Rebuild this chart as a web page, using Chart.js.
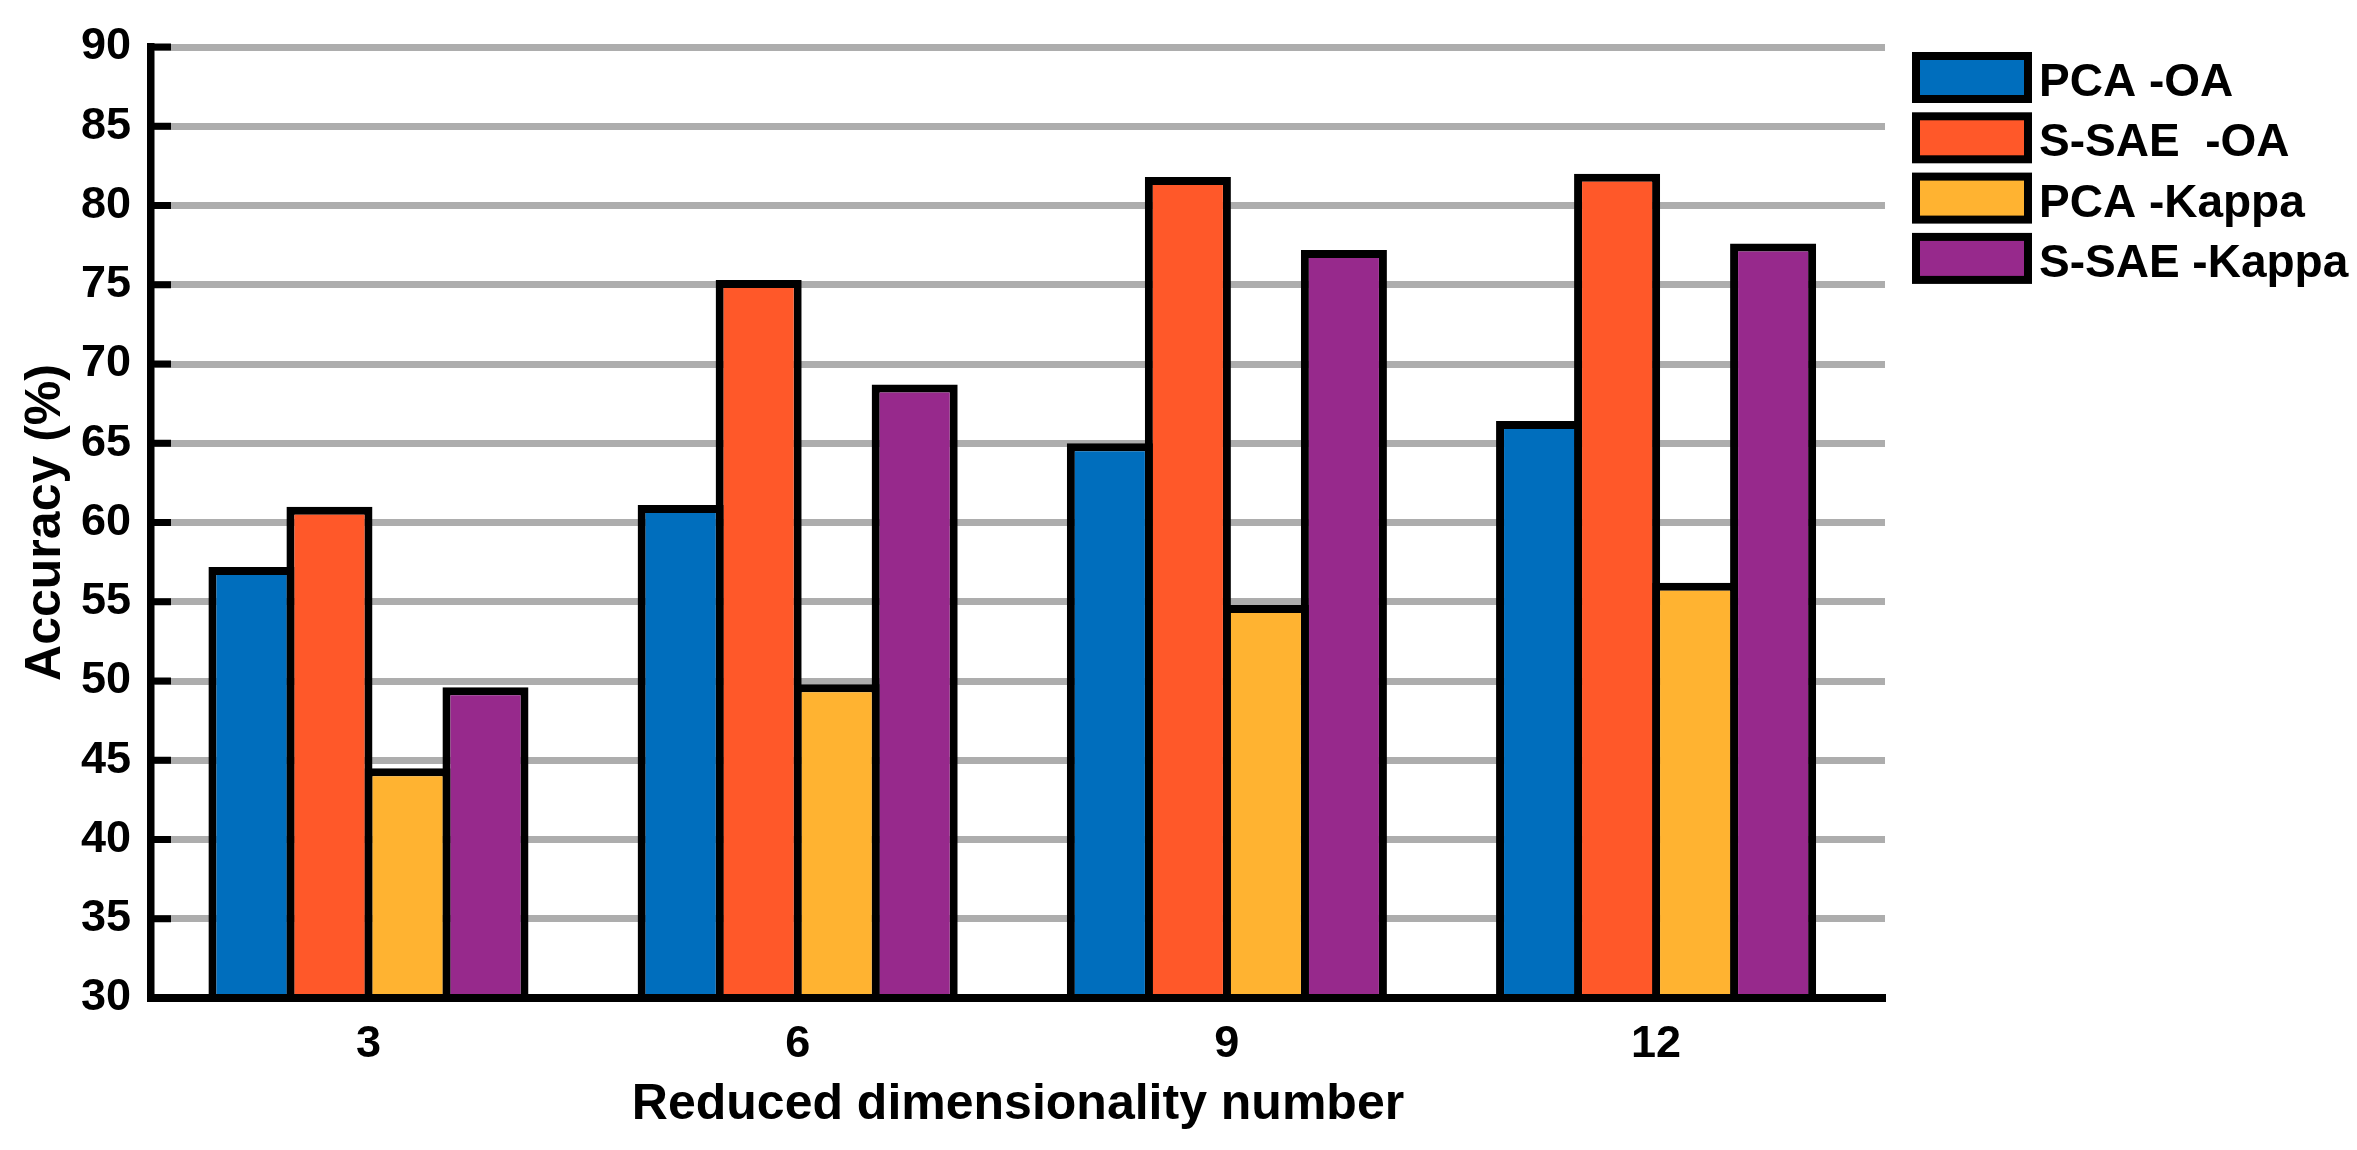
<!DOCTYPE html>
<html>
<head>
<meta charset="utf-8">
<script src="https://cdn.jsdelivr.net/npm/chart.js@4.4.1/dist/chart.umd.min.js"></script>
<style>
html, body { margin: 0; padding: 0; background: #fff; }
#wrap { width: 2357px; height: 1150px; position: relative; }
</style>
</head>
<body>
<div id="wrap"><canvas id="accChart"></canvas></div>
<script>
// Data
const dims = [3, 6, 9, 12];
const seriesNames = ['PCA -OA', 'S-SAE  -OA', 'PCA -Kappa', 'S-SAE -Kappa'];
const pcaOA = [57.2, 61.1, 65.0, 66.4];
const ssaeOA = [61.0, 75.3, 81.8, 82.0];
const pcaKappa = [44.5, 49.8, 54.8, 56.2];
const ssaeKappa = [49.6, 68.7, 77.2, 77.6];
const yMin = 30, yMax = 90, yStep = 5;

// Styles
const seriesColors = ['#006EBD', '#FF5829', '#FFB331', '#97298C'];
const FONT = "'Liberation Sans', Arial, Helvetica, sans-serif";
const EDGE = 8;

const seriesValues = [pcaOA, ssaeOA, pcaKappa, ssaeKappa];

// inward black tick marks on the y axis + legend drawn to the right
const decorPlugin = {
    id: 'decor',
    afterDraw(chart) {
        const { ctx, chartArea, scales } = chart;
        ctx.save();
        ctx.strokeStyle = '#000';
        ctx.lineWidth = 7;
        scales.y.ticks.forEach(t => {
            const y = scales.y.getPixelForValue(t.value);
            ctx.beginPath();
            ctx.moveTo(chartArea.left, y);
            ctx.lineTo(chartArea.left + 20, y);
            ctx.stroke();
        });

        const lx = chartArea.right + 27, ly = 52, bw = 120, bh = 51, step = 60.3;
        ctx.font = 'bold 46px ' + FONT;
        ctx.textAlign = 'left';
        ctx.textBaseline = 'alphabetic';
        chart.data.datasets.forEach((ds, i) => {
            const y = ly + i * step;
            ctx.fillStyle = '#000';
            ctx.fillRect(lx, y, bw, bh);
            ctx.fillStyle = ds.backgroundColor;
            ctx.fillRect(lx + EDGE, y + EDGE, bw - 2 * EDGE, bh - 2 * EDGE);
            ctx.fillStyle = '#000';
            ctx.fillText(ds.label, lx + bw + 7, y + 44);
        });
        ctx.restore();
    }
};

const ctx = document.getElementById('accChart').getContext('2d');
new Chart(ctx, {
    type: 'bar',
    data: {
        labels: dims,
        datasets: seriesNames.map((name, i) => ({
            label: name,
            data: seriesValues[i],
            backgroundColor: seriesColors[i],
            borderColor: '#000',
            borderWidth: EDGE,
            categoryPercentage: 0.727,
            barPercentage: 1.103
        }))
    },
    options: {
        responsive: true,
        maintainAspectRatio: false,
        animation: false,
        layout: { padding: { top: 41, right: 472, bottom: 0, left: 0 } },
        plugins: {
            legend: { display: false },
            tooltip: { enabled: false }
        },
        scales: {
            x: {
                type: 'linear',
                offset: false,
                min: 1.48,
                max: 13.6,
                afterBuildTicks: s => { s.ticks = dims.map(v => ({ value: v })); },
                afterFit: s => { s.height = 152; },
                grid: { display: false },
                border: { display: true, color: '#000', width: 8, z: 1 },
                ticks: {
                    color: '#000',
                    font: { family: FONT, size: 45, weight: 'bold' },
                    padding: 12,
                    maxRotation: 0,
                    autoSkip: false
                },
                title: {
                    display: true,
                    text: 'Reduced dimensionality number',
                    color: '#000',
                    font: { family: FONT, size: 50, weight: 'bold' },
                    padding: { top: 0, bottom: 15 }
                }
            },
            y: {
                min: yMin,
                max: yMax,
                afterFit: s => { s.width = 151; },
                grid: { color: '#ADADAD', lineWidth: 7, drawTicks: false },
                border: { display: true, color: '#000', width: 7.5, z: 1 },
                ticks: {
                    stepSize: yStep,
                    color: '#000',
                    font: { family: FONT, size: 45, weight: 'bold' },
                    padding: 20
                },
                title: {
                    display: true,
                    text: 'Accuracy (%)',
                    color: '#000',
                    font: { family: FONT, size: 50, weight: 'bold' },
                    padding: { top: 16, bottom: 0 }
                }
            }
        }
    },
    plugins: [decorPlugin]
});
</script>
</body>
</html>
